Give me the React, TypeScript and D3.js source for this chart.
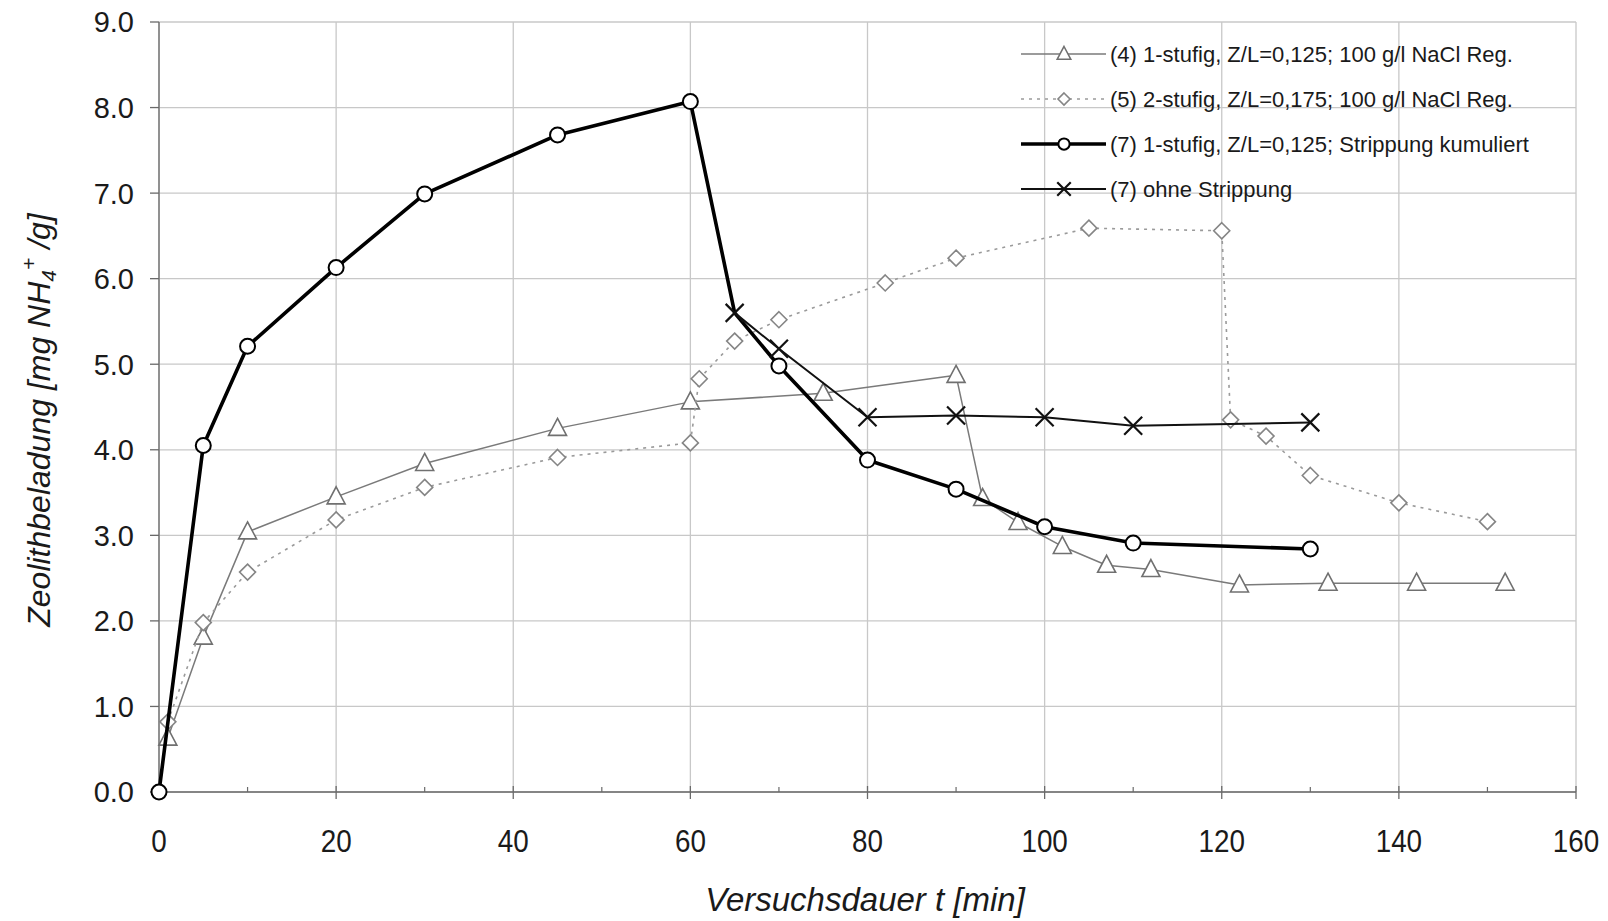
import React from "react";
import * as d3 from "d3";

// ---- data ----
const t4 = [1, 5, 10, 20, 30, 45, 60, 75, 90, 93, 97, 102, 107, 112, 122, 132, 142, 152];
const v4 = [0.63, 1.81, 3.04, 3.45, 3.84, 4.25, 4.56, 4.66, 4.87, 3.43, 3.15, 2.87, 2.65, 2.6, 2.42, 2.44, 2.44, 2.44];

const t5 = [1, 5, 10, 20, 30, 45, 60, 61, 65, 70, 82, 90, 105, 120, 121, 125, 130, 140, 150];
const v5 = [0.82, 1.98, 2.57, 3.18, 3.56, 3.91, 4.08, 4.83, 5.27, 5.52, 5.95, 6.24, 6.59, 6.56, 4.35, 4.16, 3.7, 3.38, 3.16];

const t7 = [0, 5, 10, 20, 30, 45, 60, 65, 70, 80, 90, 100, 110, 130];
const v7 = [0, 4.05, 5.21, 6.13, 6.99, 7.68, 8.07, 5.6, 4.98, 3.88, 3.54, 3.1, 2.91, 2.84];
const t7NoMarker = [65];

const t7o = [65, 70, 80, 90, 100, 110, 130];
const v7o = [5.6, 5.18, 4.38, 4.4, 4.38, 4.28, 4.32];

const legendLabels = [
  "(4) 1-stufig, Z/L=0,125; 100 g/l NaCl Reg.",
  "(5) 2-stufig, Z/L=0,175; 100 g/l NaCl Reg.",
  "(7) 1-stufig, Z/L=0,125; Strippung kumuliert",
  "(7) ohne Strippung",
];

const xTicks = [0, 20, 40, 60, 80, 100, 120, 140, 160];
const yTicks = [0, 1, 2, 3, 4, 5, 6, 7, 8, 9];

const W = 1608;
const H = 921;
const FONT = "'Liberation Sans', Arial, Helvetica, sans-serif";

const x = d3.scaleLinear().domain([0, 160]).range([159, 1576]);
const y = d3.scaleLinear().domain([0, 9]).range([792, 22]);

type Kind = "tri" | "dia" | "circ" | "x";

function Marker({ kind, cx, cy, s = 1 }: { kind: Kind; cx: number; cy: number; s?: number }) {
  if (kind === "tri") {
    const hw = 9 * s, top = 10 * s, bot = 7 * s;
    return (
      <path
        d={`M${cx},${cy - top}L${cx + hw},${cy + bot}L${cx - hw},${cy + bot}Z`}
        fill="#fff"
        stroke="#707070"
        strokeWidth={1.6}
      />
    );
  }
  if (kind === "dia") {
    const r = 8 * s;
    return (
      <path
        d={`M${cx},${cy - r}L${cx + r},${cy}L${cx},${cy + r}L${cx - r},${cy}Z`}
        fill="#fff"
        stroke="#858585"
        strokeWidth={1.6}
      />
    );
  }
  if (kind === "circ") {
    return <circle cx={cx} cy={cy} r={7.5 * s} fill="#fff" stroke="#000" strokeWidth={2} />;
  }
  const r = 9 * s;
  return (
    <path
      d={`M${cx - r},${cy - r}L${cx + r},${cy + r}M${cx - r},${cy + r}L${cx + r},${cy - r}`}
      stroke="#111"
      strokeWidth={2.2}
      fill="none"
    />
  );
}

const lineGen = d3
  .line<[number, number]>()
  .x((d) => x(d[0]))
  .y((d) => y(d[1]));

function zip(ts: number[], vs: number[]): [number, number][] {
  return ts.map((t, i) => [t, vs[i]]);
}

const series = [
  { kind: "tri" as Kind, data: zip(t4, v4), stroke: "#7a7a7a", width: 1.5, dash: undefined as string | undefined, skip: [] as number[] },
  { kind: "dia" as Kind, data: zip(t5, v5), stroke: "#9a9a9a", width: 1.6, dash: "3,5", skip: [] as number[] },
  { kind: "circ" as Kind, data: zip(t7, v7), stroke: "#000", width: 3.6, dash: undefined, skip: t7NoMarker },
  { kind: "x" as Kind, data: zip(t7o, v7o), stroke: "#111", width: 2, dash: undefined, skip: [] as number[] },
];

export default function App() {
  const legendY0 = 54;
  const legendDy = 45;
  return (
    <svg
      width={W}
      height={H}
      style={{ position: "absolute", left: 0, top: 0, background: "#fff" }}
      fontFamily={FONT}
    >
      <rect x={0} y={0} width={W} height={H} fill="#fff" />
      {/* grid */}
      {yTicks.map((v) => (
        <line key={"gy" + v} x1={x(0)} x2={x(160)} y1={y(v)} y2={y(v)} stroke="#c8c8c8" strokeWidth={1.3} />
      ))}
      {xTicks.map((t) => (
        <line key={"gx" + t} x1={x(t)} x2={x(t)} y1={y(0)} y2={y(9)} stroke="#c8c8c8" strokeWidth={1.3} />
      ))}
      {/* axes */}
      <line x1={x(0)} x2={x(0)} y1={y(0)} y2={y(9)} stroke="#6a6a6a" strokeWidth={1.3} />
      <line x1={x(0)} x2={x(160)} y1={y(0)} y2={y(0)} stroke="#6a6a6a" strokeWidth={1.3} />
      {yTicks.map((v) => (
        <g key={"yt" + v}>
          <line x1={x(0) - 9} x2={x(0)} y1={y(v)} y2={y(v)} stroke="#6a6a6a" strokeWidth={1.3} />
          <text x={134} y={y(v)} dy="0.36em" textAnchor="end" fontSize={29} fill="#1a1a1a">
            {d3.format(".1f")(v)}
          </text>
        </g>
      ))}
      {d3.range(10, 160, 20).map((t) => (
        <line key={"mx" + t} x1={x(t)} x2={x(t)} y1={y(0) - 5} y2={y(0)} stroke="#6a6a6a" strokeWidth={1.2} />
      ))}
      {xTicks.map((t) => (
        <g key={"xt" + t}>
          <line x1={x(t)} x2={x(t)} y1={y(0) - 6} y2={y(0) + 7} stroke="#6a6a6a" strokeWidth={1.3} />
          <text
            transform={`translate(${x(t)},852) scale(0.87,1)`}
            textAnchor="middle"
            fontSize={32}
            fill="#1a1a1a"
          >
            {t}
          </text>
        </g>
      ))}
      {/* axis titles */}
      <text
        transform={`translate(865,911)`}
        textAnchor="middle"
        fontSize={33}
        fontStyle="italic"
        fill="#1a1a1a"
      >
        Versuchsdauer t [min]
      </text>
      <text
        transform={`translate(50,420) rotate(-90)`}
        textAnchor="middle"
        fontSize={32}
        fontStyle="italic"
        fill="#1a1a1a"
      >
        Zeolithbeladung [mg NH
        <tspan fontSize={21} dy={6}>4</tspan>
        <tspan fontSize={21} dy={-20}>+</tspan>
        <tspan dy={14}> /g]</tspan>
      </text>
      {/* series */}
      {series.map((s, i) => (
        <g key={"s" + i}>
          <path
            d={lineGen(s.data) || ""}
            fill="none"
            stroke={s.stroke}
            strokeWidth={s.width}
            strokeDasharray={s.dash}
            strokeLinejoin="round"
          />
          {s.data
            .filter((d) => !s.skip.includes(d[0]))
            .map((d, j) => (
              <Marker key={j} kind={s.kind} cx={x(d[0])} cy={y(d[1])} />
            ))}
        </g>
      ))}
      {/* legend */}
      {legendLabels.map((lab, i) => {
        const s = series[i];
        const ly = legendY0 + i * legendDy;
        return (
          <g key={"lg" + i}>
            <line
              x1={1021}
              x2={1106}
              y1={ly}
              y2={ly}
              stroke={s.stroke}
              strokeWidth={s.width}
              strokeDasharray={s.dash}
            />
            <Marker kind={s.kind} cx={1064} cy={ly} s={0.75} />
            <text x={1110} y={ly} dy="0.35em" fontSize={22} fill="#1a1a1a">
              {lab}
            </text>
          </g>
        );
      })}
    </svg>
  );
}
